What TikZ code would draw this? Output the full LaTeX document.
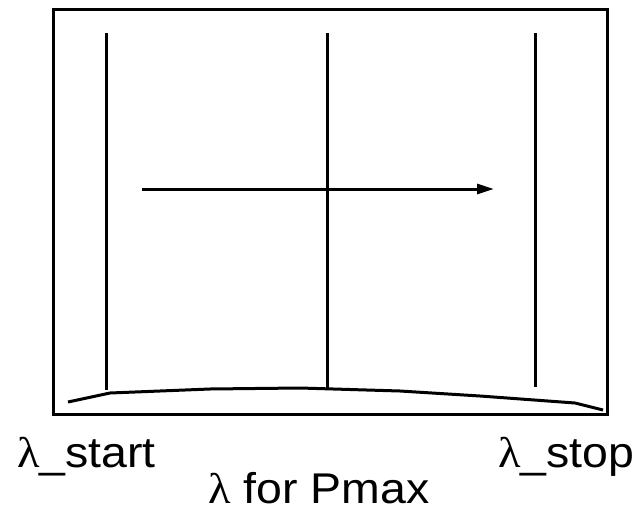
\documentclass[tikz,border=0pt]{standalone}
\usepackage{fontspec}
\setmainfont{Liberation Sans}
\newfontfamily\lamfont{Liberation Serif}
\usetikzlibrary{arrows.meta}
\tikzset{
  thick line/.style={line width=3pt, line cap=butt},
  label text/.style={anchor=base west, inner sep=0pt, text depth=0pt, font=\fontsize{43}{43}\selectfont, xscale=1.08},
}
\newcommand{\lam}{{\lamfont λ}}
\begin{document}
\begin{tikzpicture}[x=1pt,y=-1pt]
\useasboundingbox (0,0) rectangle (641,512);
% frame
\draw[thick line] (53,9) rectangle (607,414);
% vertical lines
\coordinate (l1t) at (106,33); \coordinate (l1b) at (106,390);
\coordinate (l2t) at (327,33); \coordinate (l2b) at (327,388);
\coordinate (l3t) at (535,33); \coordinate (l3b) at (535,387);
\draw[thick line] (l1t) -- (l1b);
\draw[thick line] (l2t) -- (l2b);
\draw[thick line] (l3t) -- (l3b);
% arrow
\coordinate (as) at (142,189); \coordinate (ae) at (494,189);
\draw[thick line, -{Triangle[length=17pt,width=10pt]}] (as) -- (ae);
% curve
\draw[thick line, line join=round] (68,402) -- (110,393) -- (210,389) -- (300,388)
  -- (400,391) -- (480,396) -- (575,403) -- (603,410);
% labels
\node[label text] (start) at (17,467) {\lam\_start};
\node[label text] (stop) at (498,467) {\lam\_stop};
\node[label text] (pmax) at (208,503) {\lam{} for Pmax};
\end{tikzpicture}
\end{document}
